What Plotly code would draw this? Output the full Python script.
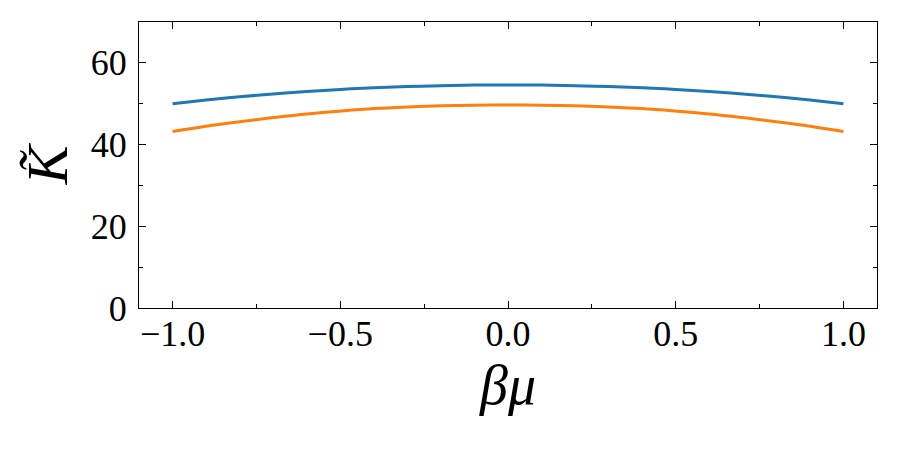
import plotly.graph_objects as go

beta_mu = [-1.0, -0.9, -0.8, -0.7, -0.6, -0.5, -0.4, -0.3, -0.2, -0.1, 0.0,
           0.1, 0.2, 0.3, 0.4, 0.5, 0.6, 0.7, 0.8, 0.9, 1.0]
k_blue = [50.0, 50.9, 51.7, 52.4, 53.0, 53.5, 53.9, 54.2, 54.4, 54.55, 54.6,
          54.55, 54.4, 54.2, 53.9, 53.5, 53.0, 52.4, 51.7, 50.9, 50.0]
k_orange = [43.2, 44.5, 45.6, 46.6, 47.5, 48.2, 48.8, 49.2, 49.5, 49.65, 49.7,
            49.65, 49.5, 49.2, 48.8, 48.2, 47.5, 46.6, 45.6, 44.5, 43.2]

fig = go.Figure()
fig.add_trace(go.Scatter(x=beta_mu, y=k_blue, mode="lines", line=dict(color="#1f77b4", width=3, shape="spline")))
fig.add_trace(go.Scatter(x=beta_mu, y=k_orange, mode="lines", line=dict(color="#ff7f0e", width=3, shape="spline")))

font_family = "Liberation Serif"
axis_common = dict(
    showline=True, linecolor="black", linewidth=1.3, mirror="allticks",
    ticks="inside", ticklen=7, tickwidth=1.3, tickcolor="black",
    showgrid=False, zeroline=False,
    tickfont=dict(family=font_family, size=36, color="black"),
)
fig.update_xaxes(
    range=[-1.1, 1.1], tickmode="array", tickvals=[-1.0, -0.5, 0.0, 0.5, 1.0],
    ticktext=["\u22121.0", "\u22120.5", "0.0", "0.5", "1.0"],
    minor=dict(dtick=0.25, tick0=0, ticks="inside", ticklen=4, tickwidth=1.0, tickcolor="black"),
    title=dict(text="<i>\u03b2\u03bc</i>", font=dict(family=font_family, size=56, color="black"), standoff=6),
    ticklabelstandoff=-6,
    **axis_common,
)
fig.update_yaxes(
    range=[0, 70], tickmode="array", tickvals=[0, 20, 40, 60],
    minor=dict(dtick=10, tick0=0, ticks="inside", ticklen=4, tickwidth=1.0, tickcolor="black"),
    title=dict(text="<i>K\u0303</i>", font=dict(family=font_family, size=58, color="black"), standoff=4),
    ticklabelstandoff=4,
    **axis_common,
)
fig.update_layout(
    width=900, height=450, showlegend=False,
    margin=dict(l=139, r=23, t=22, b=142),
    paper_bgcolor="white", plot_bgcolor="white",
)
fig.write_html("out.html")
